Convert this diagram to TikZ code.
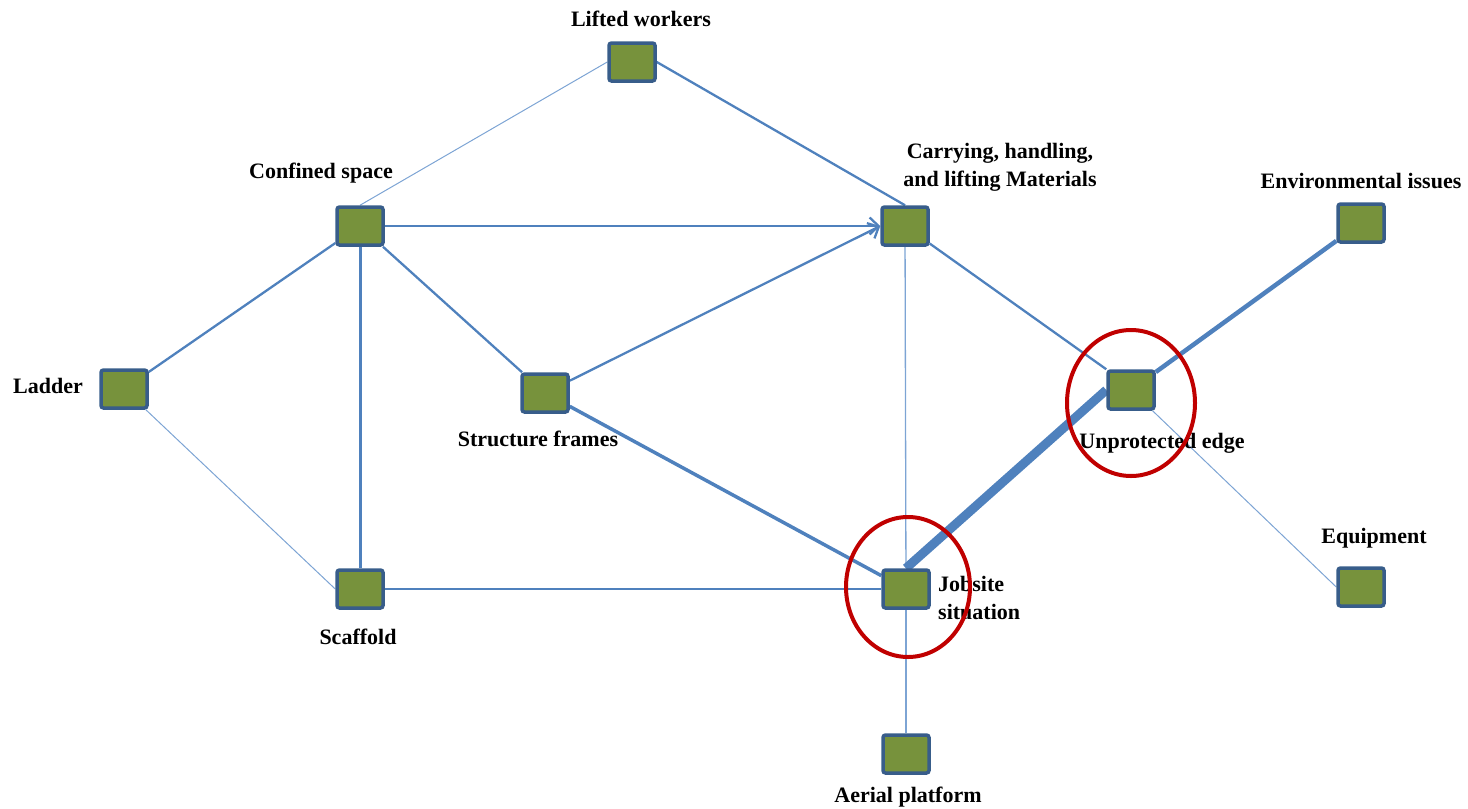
\documentclass[tikz,border=0pt]{standalone}
\usepackage{fontspec}
\setmainfont{Liberation Serif}
\usetikzlibrary{arrows.meta,shapes.geometric}
\pgfdeclarelayer{bg}
\pgfsetlayers{bg,main}
\definecolor{edgeblue}{RGB}{79,129,189}
\definecolor{thinblue}{RGB}{125,164,212}
\definecolor{boxfill}{RGB}{119,146,60}
\definecolor{boxline}{RGB}{56,93,138}
\definecolor{ringred}{RGB}{192,0,0}
\begin{document}
\begin{tikzpicture}[x=1pt,y=-1pt,
  box/.style={draw=boxline,fill=boxfill,line width=3.5pt,rounded corners=2.5pt,minimum width=46pt,minimum height=38pt,inner sep=0pt},
  lbl/.style={font=\fontsize{22}{28}\selectfont\bfseries,inner sep=0pt,align=center},
  thin/.style={draw=thinblue,line width=1pt},
  med/.style={draw=edgeblue,line width=2.3pt},
  arr/.style={-{Straight Barb[length=9pt,width=17pt,line width=2.3pt]}},
  ring/.style={draw=ringred,line width=4pt,ellipse,inner sep=0pt}]
\useasboundingbox (0,0) rectangle (1468,809);
% boxes
\node[box] (lift) at (632,62) {};
\node[box] (conf) at (360,226) {};
\node[box] (carr) at (905,226) {};
\node[box] (env) at (1361,223) {};
\node[box] (lad) at (124,389) {};
\node[box] (str) at (545,393) {};
\node[box] (unp) at (1131,390) {};
\node[box] (equ) at (1361,587) {};
\node[box] (sca) at (360,589) {};
\node[box] (job) at (906,589) {};
\node[box] (aer) at (906,754) {};
% edges behind boxes
\begin{pgfonlayer}{bg}
\path[thin] (lift.west) -- (conf.north);
\path[med] (lift.east) -- (carr.north);
\path[med,arr] (conf.east) -- (carr.west);
\path[med] (conf) -- (lad);
\path[draw=edgeblue,line width=3pt] (conf) -- (sca);
\path[med] (conf) -- (str);
\path[med,arr] (str) -- (carr.west);
\path[draw=edgeblue,line width=3.5pt] (str) -- (job);
\path[draw=thinblue,line width=1.3pt] (carr) -- (job);
\path[med] (carr) -- (unp.north west);
\path[draw=edgeblue,line width=4.5pt] (unp) -- (env);
\path[draw=edgeblue,line width=9pt] (job.north) -- (unp.west);
\path[thin] (unp) -- (equ.west);
\path[thin] (lad) -- (sca.west);
\path[med] (sca) -- (job);
\path[draw=thinblue,line width=1.3pt] (job) -- (aer);
\end{pgfonlayer}
% labels
\node[lbl] (tlift) at (641,19) {Lifted workers};
\node[lbl] (tconf) at (321,173) {Confined space};
\node[lbl] (tcarr) at (1000,167) {Carrying, handling,\\ and lifting Materials};
\node[lbl] (tenv) at (1361,181) {Environmental issues};
\node[lbl] (tlad) at (48,386) {Ladder};
\node[lbl] (tstr) at (538,439) {Structure frames};
\node[lbl] (tunp) at (1162,443) {Unprotected edge};
\node[lbl] (tequ) at (1374,538) {Equipment};
\node[lbl] (tsca) at (358,637) {Scaffold};
\node[lbl,align=left,anchor=west] (tjob) at (938,598) {Jobsite\\ situation};
\node[lbl] (taer) at (908,797) {Aerial platform};
% red rings
\node[ring,minimum width=128pt,minimum height=146pt] (r1) at (1131,403) {};
\node[ring,minimum width=124pt,minimum height=140pt] (r2) at (908,587) {};
\end{tikzpicture}
\end{document}
